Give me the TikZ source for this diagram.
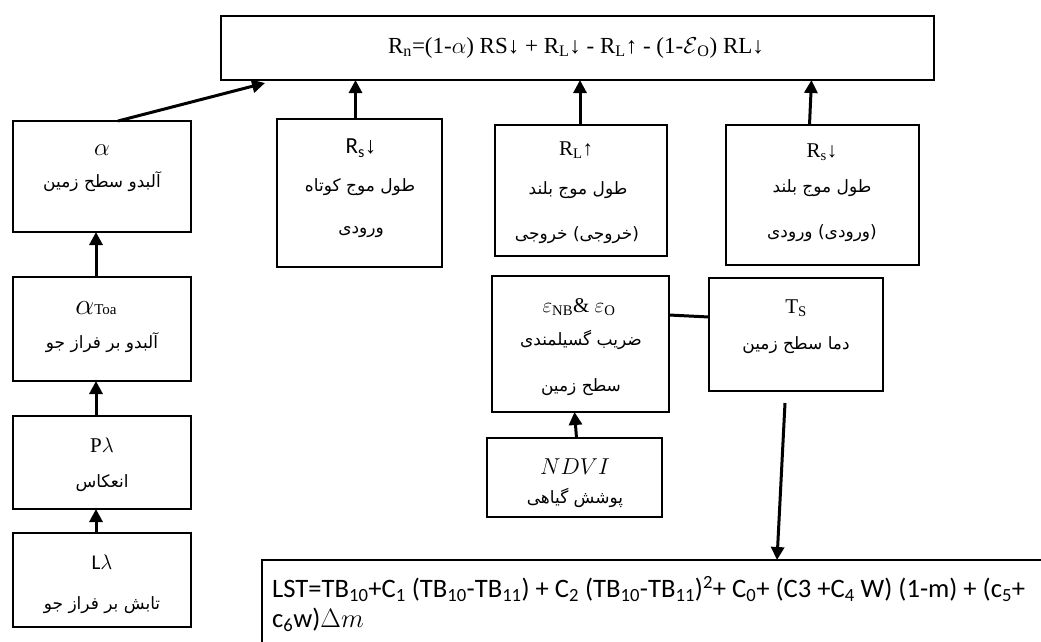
\documentclass[tikz,border=0pt]{standalone}
\usepackage{fix-cm}
\usepackage{fontspec}
\setmainfont{Liberation Serif}
\newfontfamily\fa[Script=Arabic]{DejaVu Sans}
\newfontfamily\lstfont{Carlito}
\TeXXeTstate=1
\usetikzlibrary{arrows.meta}
\tikzset{
  box/.style={draw, line width=2.4pt, inner sep=0pt, outer sep=0pt, anchor=north west},
  arr/.style={line width=3pt, -{Triangle[length=13pt,width=13pt]}},
  conn/.style={line width=3pt},
  lat/.style={font=\fontsize{21}{24}\selectfont, inner sep=0pt},
  per/.style={font=\fa\fontsize{17}{20}\selectfont, inner sep=0pt},
}
\begin{document}
\begin{tikzpicture}[x=1pt,y=-1pt]
\clip (0,0) rectangle (1041,641);
\fill[white] (0,0) rectangle (1041,641);
% boxes
\node[box, line width=2pt, minimum width=713pt, minimum height=64pt] (top) at (221,16) {};
\node[box, minimum width=178pt, minimum height=111pt] (alpha) at (13,121) {};
\node[box, minimum width=178pt, minimum height=104pt] (toa) at (13,277) {};
\node[box, minimum width=178pt, minimum height=93pt] (plam) at (13,416) {};
\node[box, minimum width=178pt, minimum height=94pt] (llam) at (13,533) {};
\node[box, minimum width=165pt, minimum height=148pt] (rsin) at (277,119) {};
\node[box, minimum width=172pt, minimum height=131pt] (rlup) at (495,125) {};
\node[box, minimum width=193pt, minimum height=140pt] (rsd) at (726,125) {};
\node[box, minimum width=177pt, minimum height=136pt] (eps) at (492,276) {};
\node[box, minimum width=174pt, minimum height=113pt] (ts) at (709,278) {};
\node[box, minimum width=175pt, minimum height=79pt] (ndvi) at (487,438) {};
\node[box, minimum width=800pt, minimum height=120pt] (lst) at (262,560) {};
% texts
\node[inner sep=0pt, font=\fontsize{23}{26}\selectfont] (toptxt) at (576,48)
  {R\textsubscript{n}=(1-$\alpha$) RS↓ + R\textsubscript{L}↓ - R\textsubscript{L}↑ - (1-$\mathcal{E}$\textsubscript{O}) RL↓};
\node[lat, font=\fontsize{25}{28}\selectfont] (alphat) at (102,150) {$\alpha$};
\node[per] (alphap) at (102,182) {\beginR آلبدو سطح زمین\endR};
\node[lat] (toat) at (96,308) {{\fontsize{30}{32}\selectfont$\alpha$}{\fontsize{15}{17}\selectfont Toa}};
\node[per] (toap) at (102,343) {\beginR آلبدو بر فراز جو\endR};
\node[lat] (plamt) at (102,445) {P$\lambda$};
\node[per] (plamp) at (102,483) {\beginR انعکاس\endR};
\node[lat] (llamt) at (102,562) {{\lstfont L}$\lambda$};
\node[per] (llamp) at (102,605) {\beginR تابش بر فراز جو\endR};
\node[lat, font=\fontsize{23}{26}\selectfont] (rsint) at (361,148) {{\lstfont R\textsubscript{s}}↓};
\node[per] (rsinp) at (360,187) {\beginR طول موج کوتاه\endR};
\node[per] (rsinq) at (361,232) {\beginR ورودی\endR};
\node[lat] (rlupt) at (576,150) {R\textsubscript{L}↑};
\node[per] (rlupp) at (578,190) {\beginR طول موج بلند\endR};
\node[per] (rlupq) at (577,235) {\beginR (خروجی) خروجی\endR};
\node[lat] (rsdt) at (822,152) {R\textsubscript{s}↓};
\node[per] (rsdp) at (822,188) {\beginR طول موج بلند\endR};
\node[per] (rsdq) at (822,233) {\beginR (ورودی) ورودی\endR};
\node[lat] (epst) at (579,307) {$\varepsilon$\textsubscript{NB}\& $\varepsilon$\textsubscript{O}};
\node[per] (epsp) at (581,340) {\beginR ضریب گسیلمندی\endR};
\node[per] (epsq) at (581,387) {\beginR سطح زمین\endR};
\node[lat] (tst) at (796,308) {T\textsubscript{S}};
\node[per] (tsp) at (796,345) {\beginR دما سطح زمین\endR};
\node[lat, font=\fontsize{23}{26}\selectfont] (ndvit) at (575,467) {$NDVI$};
\node[per] (ndvip) at (575,498) {\beginR پوشش گیاهی\endR};
\node[inner sep=0pt, anchor=north west, align=left, font=\lstfont\fontsize{26.6}{30}\selectfont] (lsttxt) at (272,576)
  {LST=TB\textsubscript{10}+C\textsubscript{1} (TB\textsubscript{10}-TB\textsubscript{11}) + C\textsubscript{2} (TB\textsubscript{10}-TB\textsubscript{11})\textsuperscript{2}+ C\textsubscript{0}+ (C3 +C\textsubscript{4} W) (1-m) + (c\textsubscript{5}+\\
   c\textsubscript{6}w)$\Delta m$};
% connectors
\draw[arr] ([xshift=16pt]alpha.north) -- ([xshift=44pt,yshift=-3pt]top.south west);
\draw[arr] ([xshift=-6pt]toa.north) -- ([xshift=-6pt]alpha.south);
\draw[arr] ([xshift=-6pt]plam.north) -- ([xshift=-6pt]toa.south);
\draw[arr] ([xshift=-6pt]llam.north) -- ([xshift=-6pt]plam.south);
\draw[arr] ([xshift=-4pt]rsin.north) -- ([xshift=-4pt]rsin.north |- top.south);
\draw[arr] ([xshift=-1pt]rlup.north) -- ([xshift=-1pt]rlup.north |- top.south);
\draw[arr] ([xshift=-13pt]rsd.north) -- ([xshift=-11pt]rsd.north |- top.south);
\draw[arr] ([xshift=2pt]ndvi.north) -- ([xshift=0pt]ndvi.north |- eps.south);
\draw[conn] ([yshift=-39pt]eps.north east) -- ([yshift=-39pt]ts.north west);
\coordinate (tsfoot) at ([xshift=-11pt,yshift=-12pt]ts.south);
\coordinate (lsthead) at ([xshift=-19pt]ts.south |- lst.north);
\draw[arr] (tsfoot) -- (lsthead);
\end{tikzpicture}
\end{document}
